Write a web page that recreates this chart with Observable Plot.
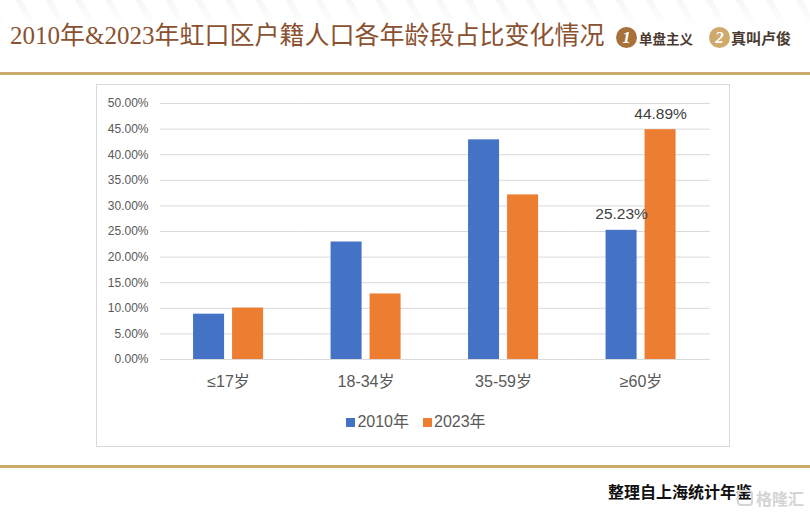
<!DOCTYPE html>
<html lang="zh">
<head>
<meta charset="utf-8">
<script src="https://cdn.jsdelivr.net/npm/d3@7"></script>
<script src="https://cdn.jsdelivr.net/npm/@observablehq/plot@0.6"></script>
<style>
html,body{margin:0;padding:0;background:#fff;}
#page{position:relative;width:810px;height:517px;overflow:hidden;font-family:"Liberation Sans","Noto Sans CJK SC",sans-serif;}
#page>*{position:absolute;}
#stripes{left:0;top:0;width:810px;height:26px;background:repeating-linear-gradient(60deg,#f7f6f3 0 6px,#fff 6px 26px);-webkit-mask-image:linear-gradient(#000,transparent);mask-image:linear-gradient(#000,transparent);}
#title{left:10px;top:19px;font:25px/34px "Liberation Serif","Noto Sans CJK SC",serif;color:#8a5230;white-space:nowrap;}
.rule{left:0;width:810px;height:3px;background:#c9ab6f;}
#frame{left:96px;top:84px;width:632px;height:361px;border:1px solid #d9d9d9;}
#chart{left:96px;top:85px;}
.brand{font-weight:bold;font-family:"Noto Sans CJK SC",sans-serif;line-height:20px;color:#4a3a30;white-space:nowrap;top:28px;}
.badge{top:27px;width:21px;height:21px;border-radius:50%;color:#fff;font:italic bold 17px/21px "Liberation Serif",serif;text-align:center;}
#legend{left:99px;top:412px;width:634px;text-align:center;font-size:16px;line-height:20px;color:#595959;white-space:nowrap;}
#legend span{display:inline-block;}
#legend i{display:inline-block;width:9px;height:9px;margin-right:2px;}
#legend span+span{margin-left:14px;}
#source{left:608px;top:483px;font:bold 16px/20px "Liberation Serif","Noto Sans CJK SC",serif;color:#111;white-space:nowrap;}
#markicon{left:737px;top:490px;width:12px;height:12px;border:2px solid #d4d4d4;border-radius:4px;}
#mark{left:756px;top:488px;font:bold 16px/20px "Noto Sans CJK SC",sans-serif;color:#d4d4d4;white-space:nowrap;}
</style>
</head>
<body>
<div id="page">
  <div id="stripes"></div>
  <div id="title">2010年&amp;2023年虹口区户籍人口各年龄段占比变化情况</div>
  <div class="badge" style="left:616px;background:#a8703a;">1</div>
  <div class="brand" style="left:639px;font-size:13.5px;">单盘主义</div>
  <div class="badge" style="left:709px;background:#d0aa6c;">2</div>
  <div class="brand" style="left:731px;font-size:15px;">真叫卢俊</div>
  <div class="rule" style="top:72px;"></div>
  <div id="frame"></div>
  <div id="chart"></div>
  <div id="legend"></div>
  <div class="rule" style="top:465px;"></div>
  <div id="source">整理自上海统计年鉴</div>
  <div id="markicon"></div>
  <div id="mark">格隆汇</div>
</div>
<script>
const categories = ["≤17岁", "18-34岁", "35-59岁", "≥60岁"];
const seriesNames = ["2010年", "2023年"];
const values2010 = [8.85, 22.95, 42.9, 25.23];
const values2023 = [10.05, 12.8, 32.15, 44.89];
const labelled = ["25.23%", "44.89%"];
const yTicks = [0, 5, 10, 15, 20, 25, 30, 35, 40, 45, 50];
const seriesColors = ["#4472C4", "#ED7D31"];

const rows = categories.flatMap((c, i) => [
  {category: c, series: seriesNames[0], value: values2010[i]},
  {category: c, series: seriesNames[1], value: values2023[i]}
]);
const fmt = d => d.toFixed(2) + "%";
const labelRows = rows.filter(d => labelled.includes(fmt(d.value)));

const plot = Plot.plot({
  width: 633,
  height: 315,
  marginLeft: 64,
  marginRight: 19,
  marginTop: 18,
  marginBottom: 41,
  style: {background: "transparent", fontFamily: '"Liberation Sans","Noto Sans CJK SC",sans-serif', overflow: "visible"},
  fx: {domain: categories, padding: 0, round: false, label: null},
  x: {domain: seriesNames, paddingInner: 0.205, paddingOuter: 0.865, align: 0.49, round: false, axis: null, label: null},
  y: {domain: [0, 50], label: null},
  color: {domain: seriesNames, range: seriesColors},
  marks: [
    Plot.ruleY(yTicks, {stroke: "#d9d9d9", strokeWidth: 1, strokeOpacity: 1}),
    Plot.axisY({ticks: yTicks, tickSize: 0, tickPadding: 12, tickFormat: fmt, fontSize: 12, fill: "#595959", label: null}),
    Plot.axisFx({anchor: "bottom", tickSize: 0, tickPadding: 16, fontSize: 16, fill: "#595959", label: null, dx: -0.7}),
    Plot.barY(rows, {fx: "category", x: "series", y: "value", fill: "series"}),
    Plot.text(labelRows, {fx: "category", x: "series", y: "value", text: d => fmt(d.value), dy: -16, fontSize: 15.5, fill: "#404040"})
  ]
});
document.getElementById("chart").append(plot);

const legend = document.getElementById("legend");
seriesNames.forEach((name, i) => {
  const s = document.createElement("span");
  const sw = document.createElement("i");
  sw.style.background = seriesColors[i];
  s.append(sw, name);
  legend.append(s);
});
</script>
</body>
</html>
